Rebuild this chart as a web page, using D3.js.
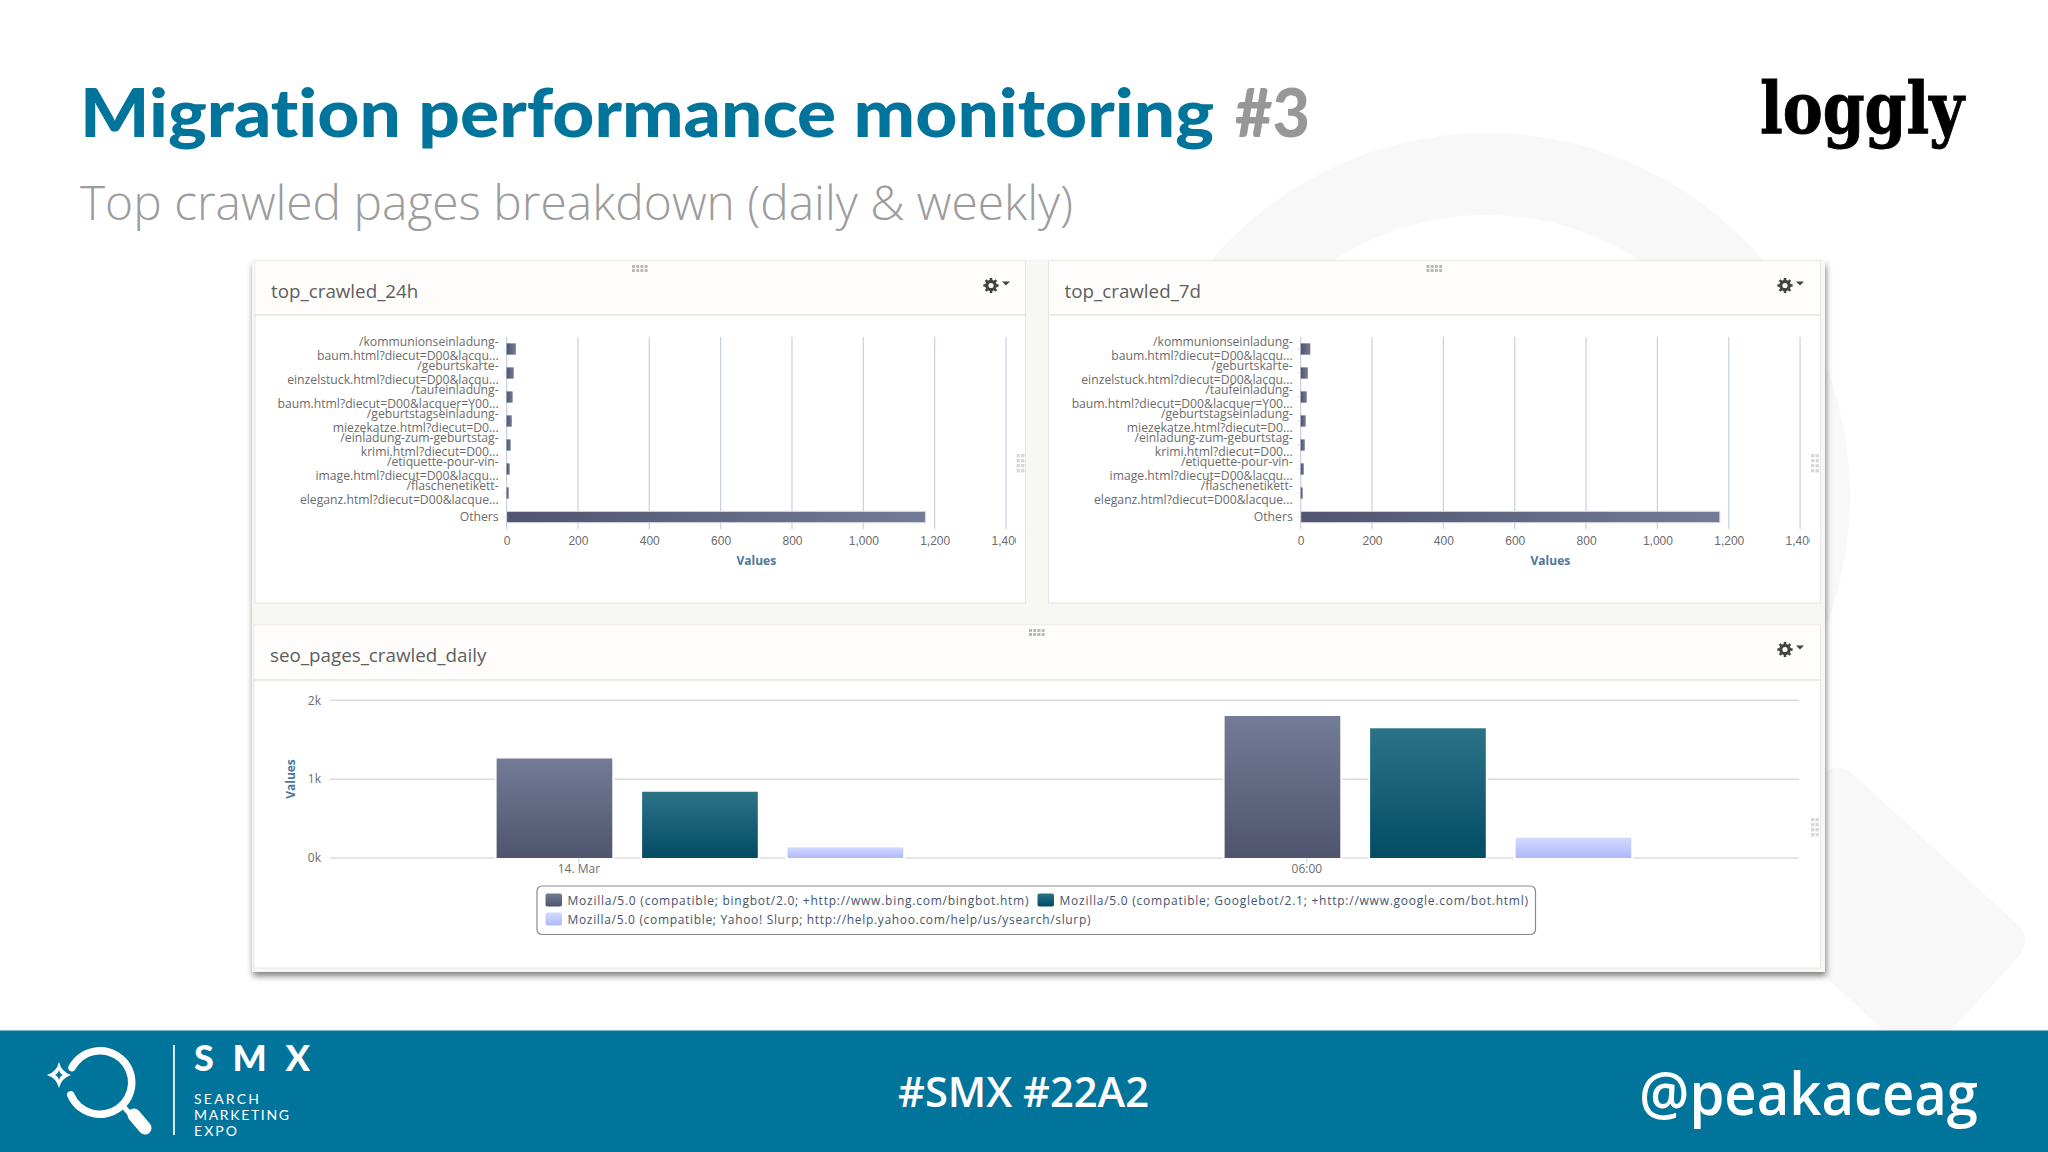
<!DOCTYPE html>
<html>
<head>
<meta charset="utf-8">
<script src="https://cdn.jsdelivr.net/npm/d3@7"></script>
<style>
  html, body { margin: 0; padding: 0; background: #fff; }
  svg { display: block; }
  .chart-text { font-family: "Open Sans", sans-serif; }
  .axis .domain { display: none; }
</style>
</head>
<body>
<svg id="slide" width="2048" height="1152"></svg>
<script>
const WIDTH = 2048;
const HEIGHT = 1152;

// top crawled pages, label wraps at \n like in the screenshot
const pageLabels = [
    "/kommunionseinladung-\nbaum.html?diecut=D00&lacqu...",
    "/geburtskarte-\neinzelstuck.html?diecut=D00&lacqu...",
    "/taufeinladung-\nbaum.html?diecut=D00&lacquer=Y00...",
    "/geburtstagseinladung-\nmiezekatze.html?diecut=D0...",
    "/einladung-zum-geburtstag-\nkrimi.html?diecut=D00...",
    "/etiquette-pour-vin-\nimage.html?diecut=D00&lacqu...",
    "/flaschenetikett-\neleganz.html?diecut=D00&lacque...",
    "Others"
];
const values24h = [26, 20, 17, 14.5, 11.5, 8.7, 6, 1174];
const values7d = [27, 20, 17, 14, 11.5, 8.7, 5.7, 1175];
const valueTicks = [0, 200, 400, 600, 800, 1000, 1200, 1400];

// daily crawl per user agent
const agents = [
    "Mozilla/5.0 (compatible; bingbot/2.0; +http://www.bing.com/bingbot.htm)",
    "Mozilla/5.0 (compatible; Googlebot/2.1; +http://www.google.com/bot.html)",
    "Mozilla/5.0 (compatible; Yahoo! Slurp; http://help.yahoo.com/help/us/ysearch/slurp)"
];
const crawlTimes = [new Date(2017, 2, 14, 0), new Date(2017, 2, 14, 6)];
const crawlTimeLabels = ["14. Mar", "06:00"];
const crawlBing = [1262, 1801];
const crawlGoogle = [840, 1645];
const crawlYahoo = [135, 257];
const crawlTicks = [0, 1000, 2000];

const TEAL = "#00749b";

const svg = d3.select("#slide");
const defs = svg.append("defs");

function addGradient(id, stops, horizontal) {
    const g = defs.append("linearGradient").attr("id", id)
        .attr("x1", 0).attr("y1", 0)
        .attr("x2", horizontal ? 1 : 0).attr("y2", horizontal ? 0 : 1);
    g.append("stop").attr("offset", "0%").attr("stop-color", stops[0]);
    g.append("stop").attr("offset", "100%").attr("stop-color", stops[1]);
}
addGradient("barH", ["#50546e", "#747b96"], true);
addGradient("bing", ["#747b96", "#50546e"]);
addGradient("google", ["#2b7387", "#024c64"]);
addGradient("yahoo", ["#d2daff", "#b0b9f9"]);

const shadow = defs.append("filter").attr("id", "cardShadow")
    .attr("x", "-3%").attr("y", "-3%").attr("width", "106%").attr("height", "106%");
shadow.append("feDropShadow")
    .attr("dx", 1).attr("dy", 4).attr("stdDeviation", 3)
    .attr("flood-color", "#000").attr("flood-opacity", 0.5);

/* =========================
   BACKGROUND
========================= */

const gBack = svg.append("g");
gBack.append("circle")
    .attr("cx", 1487).attr("cy", 496).attr("r", 322)
    .attr("fill", "none").attr("stroke", "#f8f8f8").attr("stroke-width", 82);
gBack.append("polygon")
    .attr("points", "1838,790 2003,941 1919,1033 1754,882")
    .attr("fill", "#f8f8f8").attr("stroke", "#f8f8f8")
    .attr("stroke-width", 44).attr("stroke-linejoin", "round");

/* =========================
   HEADER
========================= */

svg.append("text")
    .attr("x", 80).attr("y", 137)
    .attr("font-family", "Lato, sans-serif").attr("font-weight", 900)
    .attr("font-size", 67).attr("fill", TEAL)
    .style("font-variant-ligatures", "none")
    .attr("textLength", 1134).attr("lengthAdjust", "spacingAndGlyphs")
    .text("Migration performance monitoring");

svg.append("text")
    .attr("x", 1235).attr("y", 137)
    .attr("font-family", "Lato, sans-serif").attr("font-weight", 900)
    .attr("font-size", 67).attr("fill", "#979797")
    .attr("textLength", 75).attr("lengthAdjust", "spacingAndGlyphs")
    .text("#3");

svg.append("text")
    .attr("x", 80).attr("y", 220)
    .attr("font-family", "'Open Sans', sans-serif").attr("font-weight", 300)
    .attr("font-size", 48).attr("fill", "#9c9c9c")
    .attr("textLength", 993).attr("lengthAdjust", "spacingAndGlyphs")
    .text("Top crawled pages breakdown (daily & weekly)");

svg.append("text")
    .attr("x", 1760).attr("y", 133)
    .attr("font-family", "'DejaVu Serif', serif").attr("font-weight", 700)
    .attr("font-size", 71).attr("fill", "#000")
    .attr("stroke", "#000").attr("stroke-width", 1)
    .attr("textLength", 204).attr("lengthAdjust", "spacingAndGlyphs")
    .text("loggly");

/* =========================
   DASHBOARD CARDS
========================= */

const gCard = svg.append("g");
gCard.append("rect")
    .attr("x", 252).attr("y", 261).attr("width", 1573).attr("height", 711)
    .attr("fill", "#f7f7f4").attr("filter", "url(#cardShadow)");

function drawPanel(x, y, w, h, headH, name, gearX, gripX, sideGripX) {
    const g = gCard.append("g");
    g.append("rect").attr("x", x).attr("y", y).attr("width", w).attr("height", h)
        .attr("fill", "#fff").attr("stroke", "#e6e6e4");
    g.append("rect").attr("x", x + 0.5).attr("y", y + 0.5).attr("width", w - 1).attr("height", headH)
        .attr("fill", "#fefdfc");
    g.append("line").attr("x1", x).attr("x2", x + w)
        .attr("y1", y + headH).attr("y2", y + headH)
        .attr("stroke", "#e4e4e4").attr("stroke-width", 1.5);
    g.append("text").attr("class", "chart-text")
        .attr("x", x + 16).attr("y", y + 37)
        .attr("font-size", 18.8).attr("fill", "#5e5e5e")
        .text(name);

    // gear menu
    const gear = g.append("g").attr("transform", `translate(${gearX},${y + 24.5})`);
    gear.append("circle").attr("r", 4.2)
        .attr("fill", "none").attr("stroke", "#444").attr("stroke-width", 3.2);
    d3.range(8).forEach(i => {
        const a = i * Math.PI / 4;
        gear.append("line")
            .attr("x1", 4 * Math.cos(a)).attr("y1", 4 * Math.sin(a))
            .attr("x2", 7.6 * Math.cos(a)).attr("y2", 7.6 * Math.sin(a))
            .attr("stroke", "#444").attr("stroke-width", 2.6);
    });
    gear.append("path").attr("d", "M11,-4 h8 l-4,4 z").attr("fill", "#444");

    // drag handles
    d3.range(4).forEach(i => d3.range(2).forEach(j => {
        g.append("rect").attr("x", gripX - 8 + i * 4.2).attr("y", y + 4 + j * 4)
            .attr("width", 3).attr("height", 3).attr("fill", "#b9b9b9");
    }));
    d3.range(2).forEach(i => d3.range(4).forEach(j => {
        g.append("rect").attr("x", sideGripX - 4 + i * 4.5).attr("y", y + 193 + j * 5)
            .attr("width", 3.4).attr("height", 3.4).attr("fill", "#d8d8d8");
    }));
}

drawPanel(255, 261, 770.5, 342, 54, "top_crawled_24h", 991, 640, 1020.5);
drawPanel(1048.5, 261, 772, 342, 54, "top_crawled_7d", 1785, 1434.5, 1815);
drawPanel(254, 625, 1566.5, 343, 55, "seo_pages_crawled_daily", 1785, 1037, 1815);

/* =========================
   TOP CRAWLED BAR CHARTS
========================= */

function drawBarChart(left, values, clipRight, clipId) {
    const g = svg.append("g");
    const x = d3.scaleLinear().domain([0, 1400]).range([left, left + 499.4]);
    const y = d3.scaleBand().domain(pageLabels).range([337, 529])
        .paddingInner(0.53).paddingOuter(0.265);

    // vertical grid
    g.append("g").selectAll("line")
        .data(valueTicks)
        .enter()
        .append("line")
        .attr("x1", d => x(d)).attr("x2", d => x(d))
        .attr("y1", 337).attr("y2", 529)
        .attr("stroke", "#c8cfdf").attr("stroke-width", 1.2);

    const yAxis = g.append("g").attr("class", "axis chart-text")
        .attr("transform", `translate(${left},0)`)
        .call(d3.axisLeft(y).tickSize(4).tickPadding(4).tickFormat(""));
    yAxis.selectAll("line").attr("stroke", "#dfe4ee");
    yAxis.selectAll("text").each(function (d) {
        const lines = d.split("\n");
        const text = d3.select(this)
            .attr("font-size", 12.2).attr("fill", "#6b6b6b").attr("dy", null);
        text.selectAll("tspan")
            .data(lines)
            .enter()
            .append("tspan")
            .attr("x", -8)
            .attr("y", (l, i) => lines.length === 1 ? 4 : -3.3 + i * 14)
            .text(l => l);
    });

    g.selectAll(".bar")
        .data(values)
        .enter()
        .append("rect")
        .attr("class", "bar")
        .attr("x", x(0))
        .attr("y", (d, i) => y(pageLabels[i]))
        .attr("width", d => x(d) - x(0))
        .attr("height", y.bandwidth())
        .attr("fill", "url(#barH)")
        .attr("stroke", (d, i) => i === values.length - 1 ? "#d3d9e6" : "none");

    defs.append("clipPath").attr("id", clipId)
        .append("rect").attr("x", left - 20).attr("y", 520)
        .attr("width", clipRight - left + 20).attr("height", 40);

    const xAxis = g.append("g").attr("class", "axis chart-text")
        .attr("clip-path", `url(#${clipId})`)
        .append("g")
        .attr("transform", "translate(0,529)")
        .call(d3.axisBottom(x).tickValues(valueTicks).tickSize(0).tickPadding(7).tickFormat(d3.format(",")));
    xAxis.selectAll("text").attr("font-size", 12).attr("fill", "#6b6b6b");

    g.append("text").attr("class", "chart-text")
        .attr("x", left + 249.7).attr("y", 565)
        .attr("text-anchor", "middle").attr("font-size", 12).attr("font-weight", 700)
        .attr("fill", "#4d759e").text("Values");
}

drawBarChart(506.6, values24h, 1016, "clip24h");
drawBarChart(1300.7, values7d, 1810, "clip7d");

/* =========================
   DAILY COLUMN CHART
========================= */

const dailySeries = [
    { values: crawlBing, fill: "url(#bing)" },
    { values: crawlGoogle, fill: "url(#google)" },
    { values: crawlYahoo, fill: "url(#yahoo)" }
];

const gDaily = svg.append("g");
const xTime = d3.scaleTime().domain(crawlTimes).range([578.4, 1306.4]);
const xAgent = d3.scaleBand().domain(agents).range([-96.7, 339.8])
    .paddingInner(0.205).paddingOuter(0.1025);
const yCount = d3.scaleLinear().domain([0, 2000]).range([858, 700.3]);

const yCountAxis = gDaily.append("g").attr("class", "axis chart-text")
    .attr("transform", "translate(330,0)")
    .call(d3.axisLeft(yCount).tickValues(crawlTicks).tickSize(0).tickPadding(9).tickFormat(d => `${d / 1000}k`));
yCountAxis.selectAll("text").attr("font-size", 12).attr("fill", "#6b6b6b");

gDaily.append("g").selectAll("line")
    .data(crawlTicks)
    .enter()
    .append("line")
    .attr("x1", 330).attr("x2", 1799)
    .attr("y1", d => yCount(d)).attr("y2", d => yCount(d))
    .attr("stroke", "#dcdcdc").attr("stroke-width", 1.5);

dailySeries.forEach((s, k) => {
    gDaily.append("g").selectAll("rect")
        .data(s.values)
        .enter()
        .append("rect")
        .attr("x", (d, i) => xTime(crawlTimes[i]) + xAgent(agents[k]))
        .attr("y", d => yCount(d))
        .attr("width", xAgent.bandwidth())
        .attr("height", d => yCount(0) - yCount(d))
        .attr("fill", s.fill)
        .attr("stroke", "#fff").attr("stroke-width", 4)
        .style("paint-order", "stroke");
});

const xTimeAxis = gDaily.append("g").attr("class", "axis chart-text")
    .attr("transform", "translate(0,858)")
    .call(d3.axisBottom(xTime).tickValues(crawlTimes).tickSize(5).tickPadding(1)
        .tickFormat((d, i) => crawlTimeLabels[i]));
xTimeAxis.selectAll("line").attr("stroke", "#cdd3e2");
xTimeAxis.selectAll("text").attr("font-size", 12).attr("fill", "#6b6b6b");

gDaily.append("text").attr("class", "chart-text")
    .attr("transform", "translate(290.5,779) rotate(-90)")
    .attr("text-anchor", "middle").attr("dy", "0.35em")
    .attr("font-size", 12).attr("font-weight", 700)
    .attr("fill", "#4d759e").text("Values");

// legend
const gLegend = gDaily.append("g");
gLegend.append("rect")
    .attr("x", 537).attr("y", 886).attr("width", 998.5).attr("height", 48.5).attr("rx", 5)
    .attr("fill", "#fff").attr("stroke", "#8b8b8b").attr("stroke-width", 1.2);

const legendSwatchX = [545.5, 1037.5, 545.5];
const legendRowY = [900.5, 900.5, 919.5];
const legendTextW = [461, 468.5, 523];

agents.forEach((a, i) => {
    gLegend.append("rect")
        .attr("x", legendSwatchX[i]).attr("y", legendRowY[i] - 7)
        .attr("width", 16.5).attr("height", 13).attr("rx", 2)
        .attr("fill", dailySeries[i].fill);
    gLegend.append("text").attr("class", "chart-text")
        .attr("x", legendSwatchX[i] + 22).attr("y", legendRowY[i] + 4.2)
        .attr("font-size", 12).attr("fill", "#44546a")
        .attr("textLength", legendTextW[i]).attr("lengthAdjust", "spacing")
        .text(a);
});

/* =========================
   FOOTER
========================= */

const gFoot = svg.append("g");
gFoot.append("rect").attr("x", 0).attr("y", 1030.5).attr("width", WIDTH).attr("height", HEIGHT - 1030.5)
    .attr("fill", TEAL);

// SMX magnifier mark
const gMark = gFoot.append("g").attr("fill", "#fff");
gMark.append("path")
    .attr("transform", "translate(100,1082.5)")
    .attr("d", d3.arc().innerRadius(28).outerRadius(35.5).cornerRadius(3.5)
        .startAngle(-1.2).endAngle(2 * Math.PI - 1.85)());
gMark.append("path")
    .attr("transform", "translate(59,1075)")
    .attr("d", "M0,-13 Q2.5,-3 12,0 Q2.5,3 0,13 Q-2.5,3 -12,0 Q-2.5,-3 0,-13 Z M0,-5 Q1,-1 4,0 Q1,1 0,5 Q-1,1 -4,0 Q-1,-1 0,-5 Z")
    .attr("fill-rule", "evenodd");
gMark.append("line").attr("x1", 122).attr("y1", 1105).attr("x2", 132).attr("y2", 1116)
    .attr("stroke", "#fff").attr("stroke-width", 5);
gMark.append("line").attr("x1", 134).attr("y1", 1115).attr("x2", 145).attr("y2", 1128)
    .attr("stroke", "#fff").attr("stroke-width", 13).attr("stroke-linecap", "round");
gMark.append("rect").attr("x", 173).attr("y", 1045).attr("width", 1.8).attr("height", 90);

gFoot.append("text")
    .attr("x", 194).attr("y", 1071)
    .attr("font-family", "Lato, sans-serif").attr("font-weight", 900)
    .attr("font-size", 36).attr("fill", "#fff")
    .attr("textLength", 116).attr("lengthAdjust", "spacing")
    .text("SMX");

const smxLines = ["SEARCH", "MARKETING", "EXPO"];
const smxLineWidths = [65, 95, 43];
gFoot.selectAll(".smx-line")
    .data(smxLines)
    .enter()
    .append("text")
    .attr("class", "smx-line")
    .attr("x", 194)
    .attr("y", (d, i) => 1104 + i * 16.2)
    .attr("font-family", "Lato, sans-serif").attr("font-size", 14).attr("fill", "#fff")
    .attr("textLength", (d, i) => smxLineWidths[i]).attr("lengthAdjust", "spacing")
    .text(d => d);

gFoot.append("text")
    .attr("x", 898).attr("y", 1107)
    .attr("font-family", "'Open Sans', sans-serif").attr("font-weight", 550)
    .attr("font-size", 41).attr("fill", "#fff")
    .attr("textLength", 251).attr("lengthAdjust", "spacingAndGlyphs")
    .text("#SMX #22A2");

gFoot.append("text")
    .attr("x", 1639).attr("y", 1115)
    .attr("font-family", "'Open Sans', sans-serif").attr("font-weight", 550)
    .attr("font-size", 59).attr("fill", "#fff")
    .attr("textLength", 339).attr("lengthAdjust", "spacingAndGlyphs")
    .text("@peakaceag");
</script>
</body>
</html>
